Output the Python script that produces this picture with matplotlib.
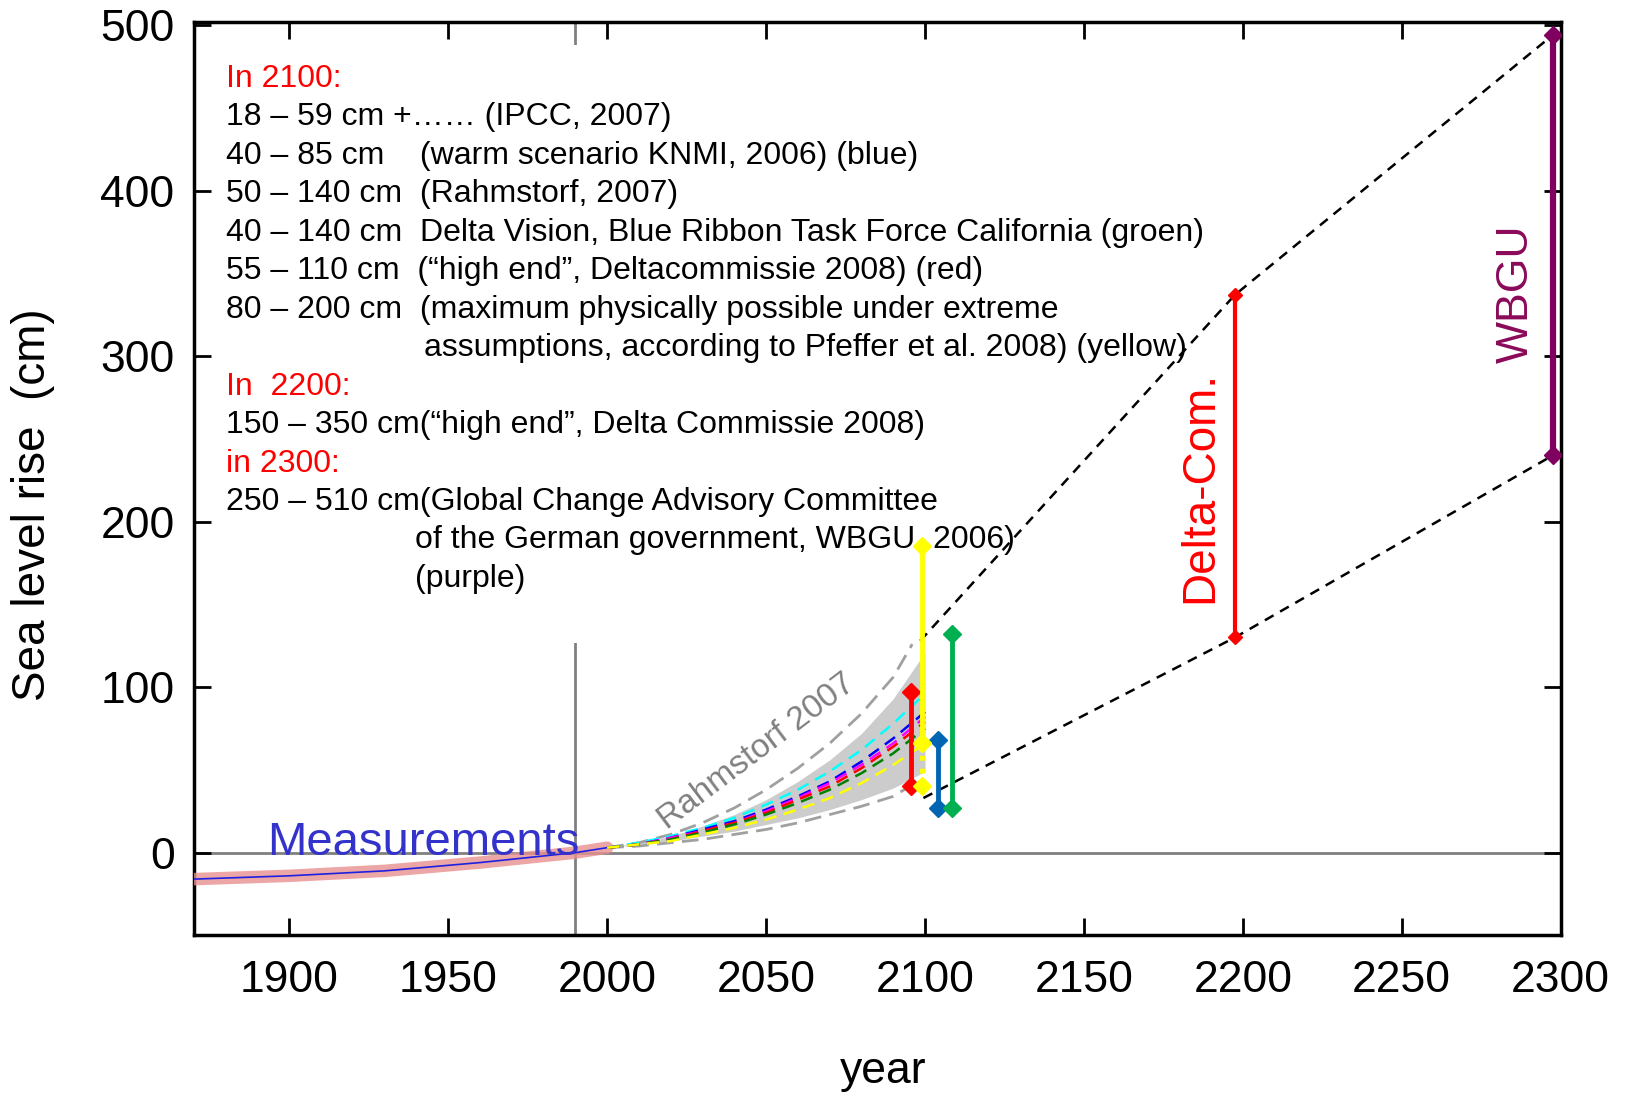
import numpy as np
import matplotlib
matplotlib.use("Agg")
import matplotlib.pyplot as plt
from matplotlib.patches import Rectangle

plt.rcParams['font.family'] = ['Liberation Sans', 'DejaVu Sans']

# gemeten zeespiegel
meas_years = [1870, 1885, 1900, 1915, 1930, 1945, 1960, 1975, 1990, 2000]
meas_cm = [-16, -15, -14, -12.5, -11, -8.5, -6, -3, 0, 3]

# Rahmstorf 2007 projecties
proj_years = [2000, 2010, 2020, 2030, 2040, 2050, 2060, 2070, 2080, 2090, 2100]
fan_upper = [3, 6, 10, 16, 23, 32, 43, 56, 72, 93, 121]
fan_lower = [3, 5, 7, 10, 13, 17, 21, 26, 32, 39, 49]
gray_years = [2000, 2010, 2020, 2030, 2040, 2050, 2060, 2070, 2080, 2090, 2096]
gray_upper = [3, 6, 11, 18, 27, 38, 51, 66, 84, 106, 126]
gray_lower = [3, 4, 6, 8, 11, 14, 18, 23, 28, 34, 41]
scen_names = ['cyan', 'blue', 'magenta', 'red', 'green', 'yellow']
scen_vals = [
    [3, 6, 10, 15, 21, 29, 38, 49, 62, 78, 96],
    [3, 5, 9, 14, 19, 26, 34, 43, 55, 69, 85],
    [3, 5, 9, 13, 18, 25, 33, 42, 53, 66, 82],
    [3, 5, 8, 13, 18, 24, 32, 40, 51, 64, 79],
    [3, 5, 8, 12, 17, 23, 30, 38, 48, 60, 75],
    [3, 5, 7, 11, 15, 20, 26, 33, 42, 53, 66],
]

# ranges in 2100 / 2200 / 2300
bar_years = [2095.5, 2104, 2108.5]
bar_low = [40, 27, 27]
bar_high = [97, 68, 132]
bar_colors = ['#ff0000', '#0066b3', '#00b050']
yellow_year = 2099
yellow_vals = [40, 66, 185]
delta_year, delta_low, delta_high = 2197.5, 130, 337
wbgu_year, wbgu_low, wbgu_high = 2297.5, 240, 494

upper_env_x = [2098.5, delta_year, wbgu_year]
upper_env_y = [128, delta_high, wbgu_high]
lower_env_x = [2099.5, delta_year, wbgu_year]
lower_env_y = [33, delta_low, wbgu_low]

text_lines = [
    ("In 2100:", 'red', 0),
    ("18 \u2013 59 cm +\u2026\u2026 (IPCC, 2007)", 'black', 0),
    ("40 \u2013 85 cm    (warm scenario KNMI, 2006) (blue)", 'black', 0),
    ("50 \u2013 140 cm  (Rahmstorf, 2007)", 'black', 0),
    ("40 \u2013 140 cm  Delta Vision, Blue Ribbon Task Force California (groen)", 'black', 0),
    ("55 \u2013 110 cm  (\u201chigh end\u201d, Deltacommissie 2008) (red)", 'black', 0),
    ("80 \u2013 200 cm  (maximum physically possible under extreme", 'black', 0),
    ("assumptions, according to Pfeffer et al. 2008) (yellow)", 'black', 1),
    ("In  2200:", 'red', 0),
    ("150 \u2013 350 cm(\u201chigh end\u201d, Delta Commissie 2008)", 'black', 0),
    ("in 2300:", 'red', 0),
    ("250 \u2013 510 cm(Global Change Advisory Committee", 'black', 0),
    ("of the German government, WBGU, 2006)", 'black', 2),
    ("(purple)", 'black', 2),
]

fig = plt.figure(figsize=(16.26, 10.93), dpi=100)
ax = fig.add_axes([0.1193, 0.1442, 0.8405, 0.8358])
ax.set_xlim(1870, 2300)
ax.set_ylim(-50, 502)

ax.axhline(0, color='#808080', lw=2, zorder=1)
ax.axvline(1990, color='#808080', lw=2, zorder=1)

# tekstvak (wit) boven de grijze lijn
ax.add_patch(Rectangle((0.02, 0.32), 0.5, 0.655, transform=ax.transAxes,
                       facecolor='white', edgecolor='none', zorder=2))

# metingen
ax.plot(meas_years, meas_cm, color='#e89090', lw=9, alpha=0.8, solid_capstyle='round', zorder=3)
ax.plot(meas_years, meas_cm, color='#2020e0', lw=1.2, zorder=4)

# Rahmstorf waaier
ax.fill_between(proj_years, fan_lower, fan_upper, color='#cccccc', lw=0, zorder=3)
ax.plot(gray_years, gray_upper, color='#a0a0a0', lw=2, ls=(0, (6, 3)), zorder=3)
ax.plot(gray_years, gray_lower, color='#a0a0a0', lw=2, ls=(0, (6, 3)), zorder=3)
for c, v in zip(scen_names, scen_vals):
    ax.plot(proj_years, v, color=c, lw=1.8, ls=(0, (5, 3)), zorder=4)

# omhullenden
ax.plot(upper_env_x, upper_env_y, color='black', lw=1.8, ls=(0, (4, 3)), zorder=4)
ax.plot(lower_env_x, lower_env_y, color='black', lw=1.8, ls=(0, (4, 3)), zorder=4)

# bereik-balken
for x, lo, hi, c in zip(bar_years, bar_low, bar_high, bar_colors):
    ax.plot([x, x], [lo, hi], color=c, lw=3.5, marker='D', ms=9, zorder=6)
ax.plot([yellow_year, yellow_year], yellow_vals[1:], color='#ffff00', lw=3.5, marker='D', ms=9, zorder=6)
ax.plot([yellow_year, yellow_year], yellow_vals[:2], color='#ffff00', lw=3.5, ls=':', marker='D', ms=9, zorder=6)
ax.plot([delta_year, delta_year], [delta_low, delta_high], color='#ff0000', lw=3, marker='D', ms=7, zorder=6)
ax.plot([wbgu_year, wbgu_year], [wbgu_low, wbgu_high], color='#800060', lw=4.5, marker='D', ms=9, zorder=6)

# labels
ax.text(1893, 6, "Measurements", color='#3333cc', fontsize=34, va='center', ha='left', zorder=7)
ax.text(2047, 61, "Rahmstorf 2007", color='#808080', fontsize=24, rotation=37,
        ha='center', va='center', rotation_mode='anchor', zorder=7)
ax.text(2186.5, 221, "Delta-Com.", color='#ff0000', fontsize=33, rotation=90,
        ha='center', va='center', zorder=7)
ax.text(2286, 338, "WBGU", color='#8b0a5a', fontsize=32, rotation=90,
        ha='center', va='center', zorder=7)

indent = [0.0235, 0.168, 0.162]
for i, (s, c, ind) in enumerate(text_lines):
    ax.text(indent[ind], 0.9375 - i * 0.0421, s, color=c, fontsize=23,
            transform=ax.transAxes, ha='left', va='center', zorder=5)

ax.set_xticks(np.arange(1900, 2301, 50))
ax.set_yticks(np.arange(0, 501, 100))
ax.tick_params(direction='in', length=12, width=2, labelsize=32, top=True, right=True)
ax.tick_params(axis='x', pad=18)
ax.tick_params(axis='y', pad=14)
for sp in ax.spines.values():
    sp.set_linewidth(2.5)
ax.set_xlabel("year", fontsize=32)
ax.xaxis.set_label_coords(0.504, -0.127)
ax.set_ylabel("Sea level rise  (cm)", fontsize=33)
ax.yaxis.set_label_coords(-0.102, 0.472)

fig.savefig("out.png", dpi=100)
